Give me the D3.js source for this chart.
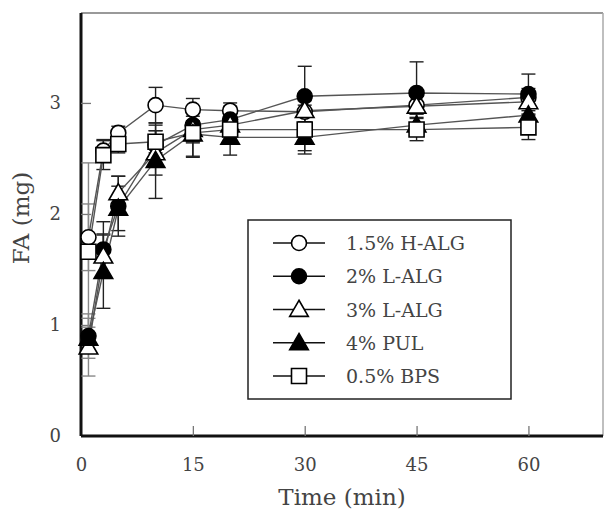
<!DOCTYPE html>
<html>
<head>
<meta charset="utf-8">
<script src="https://cdn.jsdelivr.net/npm/d3@7"></script>
<style>
  html, body { margin: 0; padding: 0; background: #fff; }
  svg { display: block; }
  text { font-family: "DejaVu Serif", "Liberation Serif", serif; fill: #444; }
</style>
</head>
<body>
<svg id="chart" width="604" height="510"></svg>
<script>
// Sampling times (min)
const times = [1, 3, 5, 10, 15, 20, 30, 45, 60];

// Series labels
const seriesNames = ["1.5% H-ALG", "2% L-ALG", "3% L-ALG", "4% PUL", "0.5% BPS"];

// FA released (mg) and standard deviations for each formulation
const hAlg    = [1.79, 2.57, 2.73, 2.98, 2.94, 2.93, 2.92, 2.98, 3.05];
const hAlgErr = [0.30, 0.10, 0.06, 0.16, 0.10, 0.07, 0.10, 0.08, 0.08];
const lAlg2    = [0.90, 1.68, 2.07, 2.62, 2.80, 2.85, 3.06, 3.09, 3.08];
const lAlg2Err = [0.20, 0.25, 0.27, 0.18, 0.15, 0.12, 0.27, 0.28, 0.18];
const lAlg3    = [0.80, 1.62, 2.19, 2.55, 2.76, 2.80, 2.93, 2.97, 3.01];
const lAlg3Err = [0.26, 0.20, 0.15, 0.20, 0.12, 0.10, 0.10, 0.10, 0.08];
const pul    = [0.88, 1.48, 2.05, 2.48, 2.72, 2.69, 2.69, 2.80, 2.89];
const pulErr = [0.10, 0.33, 0.20, 0.34, 0.20, 0.16, 0.12, 0.10, 0.10];
const bps    = [1.66, 2.53, 2.63, 2.65, 2.73, 2.76, 2.76, 2.76, 2.78];
const bpsErr = [0.80, 0.13, 0.08, 0.10, 0.22, 0.10, 0.22, 0.10, 0.11];

// Axis ticks
const xTicks = [0, 15, 30, 45, 60];
const yTicks = [0, 1, 2, 3];

const series = [
  { name: seriesNames[0], values: hAlg,  errs: hAlgErr,  shape: "circle",   fill: "#fff" },
  { name: seriesNames[1], values: lAlg2, errs: lAlg2Err, shape: "circle",   fill: "#000" },
  { name: seriesNames[2], values: lAlg3, errs: lAlg3Err, shape: "triangle", fill: "#fff" },
  { name: seriesNames[3], values: pul,   errs: pulErr,   shape: "triangle", fill: "#000" },
  { name: seriesNames[4], values: bps,   errs: bpsErr,   shape: "square",   fill: "#fff" }
];

const margin = { left: 81, top: 13, right: 1, bottom: 74 };
const W = 604, H = 510;
const svg = d3.select("#chart");

const x = d3.scaleLinear().domain([0, 70]).range([margin.left, W - margin.right]);
const y = d3.scaleLinear().domain([0, 3.81]).range([H - margin.bottom, margin.top]);

// Frame: light top/right, heavy left/bottom
svg.append("line").attr("x1", x(0)).attr("x2", x(70)).attr("y1", y(3.81)).attr("y2", y(3.81))
  .attr("stroke", "#999").attr("stroke-width", 2);
svg.append("line").attr("x1", x(70)).attr("x2", x(70)).attr("y1", y(3.81)).attr("y2", y(0))
  .attr("stroke", "#aaa").attr("stroke-width", 1.5);

// Axes with inward ticks
const xAxis = d3.axisBottom(x).tickValues(xTicks).tickSize(-10).tickPadding(22).tickFormat(d3.format("d"));
const yAxis = d3.axisLeft(y).tickValues(yTicks).tickSize(-10).tickPadding(20).tickFormat(d3.format("d"));

const gx = svg.append("g").attr("transform", `translate(0,${y(0)})`).call(xAxis);
const gy = svg.append("g").attr("transform", `translate(${x(0)},0)`).call(yAxis);

[gx, gy].forEach(g => {
  g.select(".domain").attr("stroke", "#111").attr("stroke-width", 3);
  g.selectAll(".tick line").attr("stroke", "#777").attr("stroke-width", 1.3);
  g.selectAll(".tick text").style("font-family", "'DejaVu Serif', serif")
    .style("font-size", "18px").attr("fill", "#555");
});
gx.selectAll(".tick").filter(d => d === 0).select("line").remove();
gy.selectAll(".tick").filter(d => d === 0).select("line").remove();
gx.select(".domain").attr("d", `M${x(0)},0H${x(70)}`);
gy.select(".domain").attr("d", `M0,${y(0)}V${y(3.81)}`);

// Axis titles
svg.append("text").attr("x", (x(0) + x(70)) / 2).attr("y", 505)
  .attr("text-anchor", "middle").style("font-size", "23px").text("Time (min)");
svg.append("text").attr("transform", `translate(29,218) rotate(-90)`)
  .attr("text-anchor", "middle").style("font-size", "23px").text("FA (mg)");

// Marker path generators
const sym = {
  circle: d3.symbol().type(d3.symbolCircle).size(Math.PI * 7.5 * 7.5),
  square: d3.symbol().type(d3.symbolSquare).size(15 * 15),
  triangle: d3.symbol().type(d3.symbolTriangle).size(150)
};

const plot = svg.append("g");
const line = d3.line().x(d => x(d.t)).y(d => y(d.v));

// Error bars
series.forEach(s => {
  const pts = times.map((t, i) => ({ t, v: s.values[i], e: s.errs[i] }));
  const g = plot.append("g");
  pts.forEach(p => {
    const col = p.t === 1 ? "#888" : "#222";
    const cx = x(p.t);
    g.append("line").attr("x1", cx).attr("x2", cx).attr("y1", y(p.v - p.e)).attr("y2", y(p.v + p.e))
      .attr("stroke", col).attr("stroke-width", 1.4);
    [p.v - p.e, p.v + p.e].forEach(v => {
      g.append("line").attr("x1", cx - 7).attr("x2", cx + 7).attr("y1", y(v)).attr("y2", y(v))
        .attr("stroke", col).attr("stroke-width", 1.4);
    });
  });
});

// Connecting lines
series.forEach(s => {
  const pts = times.map((t, i) => ({ t, v: s.values[i] }));
  plot.append("path").datum(pts).attr("d", line)
    .attr("fill", "none").attr("stroke", "#555").attr("stroke-width", 1.4);
});

// Markers (last series on top)
series.forEach(s => {
  const pts = times.map((t, i) => ({ t, v: s.values[i] }));
  plot.append("g").selectAll("path").data(pts).join("path")
    .attr("transform", d => `translate(${x(d.t)},${y(d.v) + (s.shape === "triangle" ? 1.5 : 0)})`)
    .attr("d", sym[s.shape]())
    .attr("fill", s.fill).attr("stroke", "#000").attr("stroke-width", 1.6);
});

// Legend
const lg = svg.append("g");
lg.append("rect").attr("x", 248).attr("y", 220).attr("width", 263).attr("height", 179)
  .attr("fill", "#fff").attr("stroke", "#222").attr("stroke-width", 1.5);
const legendY = d3.scalePoint().domain(seriesNames).range([243, 376]);
series.forEach(s => {
  const ly = legendY(s.name);
  lg.append("line").attr("x1", 273).attr("x2", 325).attr("y1", ly).attr("y2", ly)
    .attr("stroke", "#111").attr("stroke-width", 1.6);
  lg.append("path").attr("transform", `translate(299,${ly + (s.shape === "triangle" ? 1.5 : 0)})`)
    .attr("d", sym[s.shape]())
    .attr("fill", s.fill).attr("stroke", "#000").attr("stroke-width", 1.6);
  lg.append("text").attr("x", 346).attr("y", ly + 7).style("font-size", "19px").text(s.name);
});
</script>
</body>
</html>
